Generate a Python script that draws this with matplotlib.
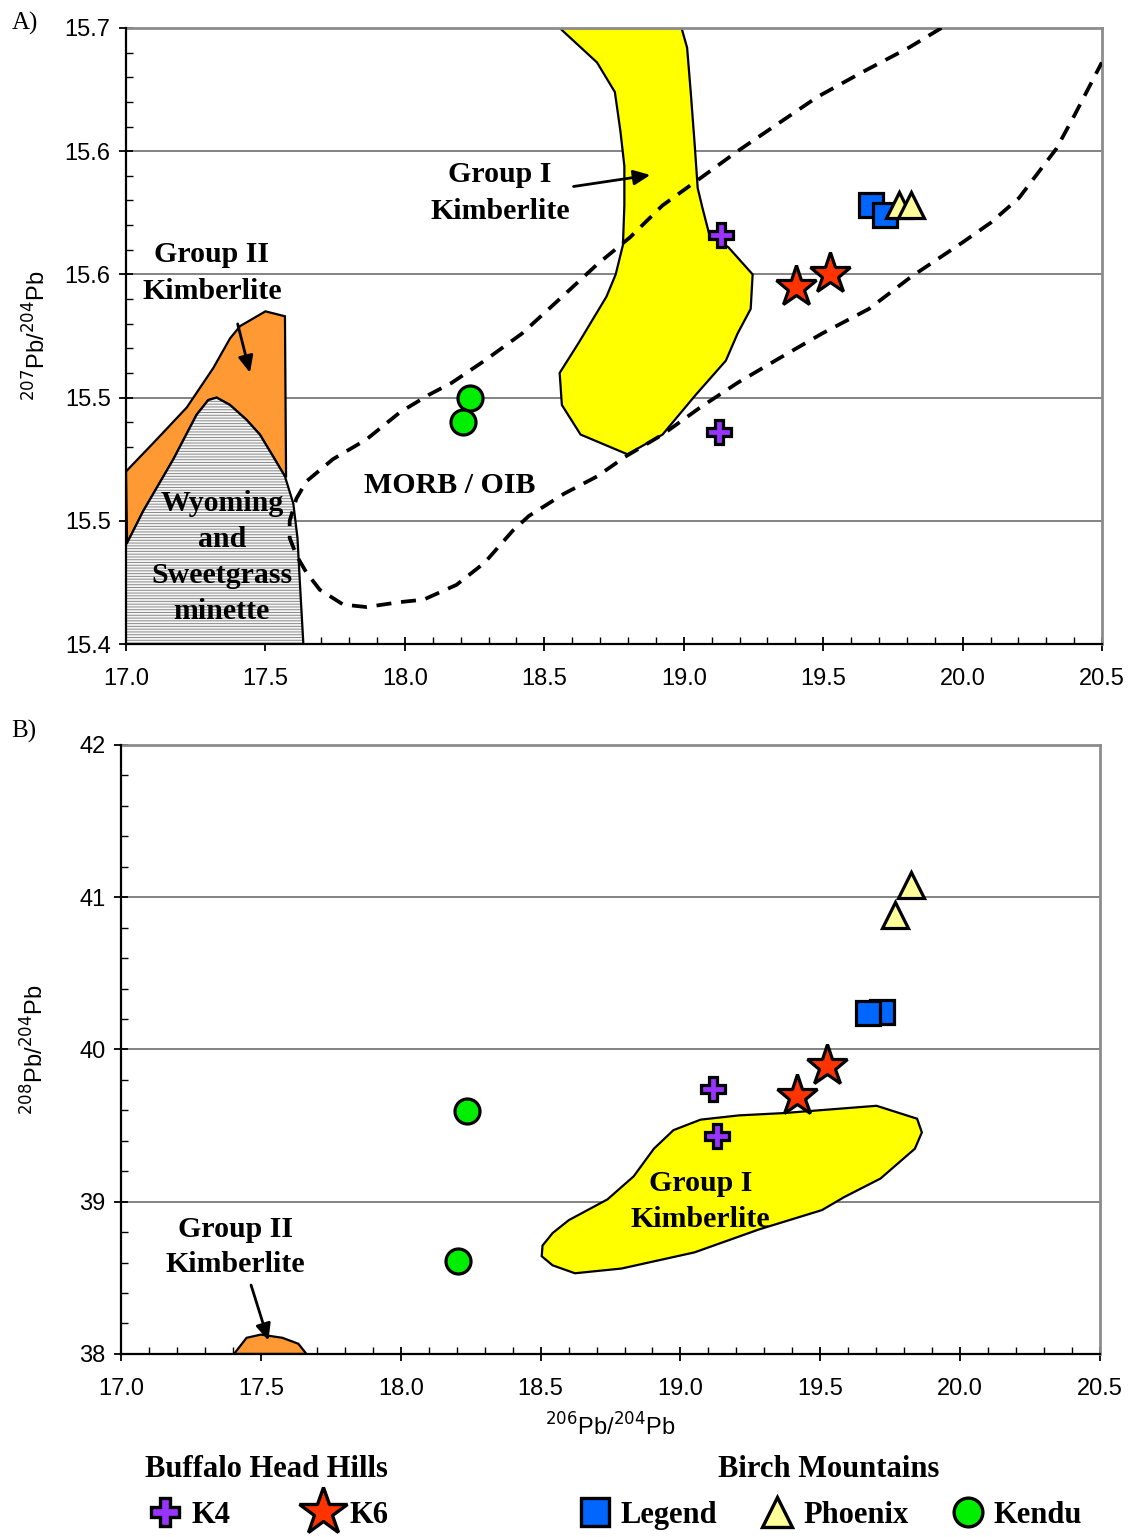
import matplotlib.pyplot as plt
from matplotlib.lines import Line2D
from matplotlib.ticker import MultipleLocator

plt.rcParams['font.family'] = ['Liberation Sans', 'DejaVu Sans']
plt.rcParams['hatch.linewidth'] = 0.7
plt.rcParams['hatch.color'] = '#8a8a8a'
SERIF = 'Liberation Serif'

# ---------------- data: panel A (207Pb/204Pb vs 206Pb/204Pb) ----------------
k4_x_a = [19.134, 19.126]
k4_y_a = [15.566, 15.486]
k6_x_a = [19.403, 19.526]
k6_y_a = [15.545, 15.550]
legend_x_a = [19.672, 19.723]
legend_y_a = [15.578, 15.574]
phoenix_x_a = [19.773, 19.815]
phoenix_y_a = [15.578, 15.578]
kendu_x_a = [18.232, 18.207]
kendu_y_a = [15.500, 15.490]

group1_x_a = [18.555, 18.992, 19.012, 19.025, 19.039, 19.050, 19.067, 19.092, 19.160, 19.247,
              19.240, 19.193, 19.151, 19.042, 18.924, 18.798, 18.630, 18.563, 18.555, 18.622,
              18.723, 18.756, 18.782, 18.787, 18.787, 18.773, 18.753, 18.689]
group1_y_a = [15.650, 15.650, 15.642, 15.624, 15.603, 15.585, 15.577, 15.566, 15.561, 15.550,
              15.536, 15.526, 15.515, 15.501, 15.485, 15.477, 15.485, 15.497, 15.510, 15.522,
              15.541, 15.550, 15.562, 15.578, 15.594, 15.608, 15.624, 15.636]

group2_top_x_a = [17.000, 17.110, 17.218, 17.313, 17.373, 17.409, 17.500, 17.570, 17.574]
group2_top_y_a = [15.470, 15.483, 15.496, 15.512, 15.524, 15.529, 15.535, 15.533, 15.468]

minette_x_a = [17.000, 17.004, 17.062, 17.170, 17.253, 17.295, 17.325, 17.373, 17.432, 17.480,
               17.528, 17.570, 17.600, 17.615, 17.624, 17.636]
minette_y_a = [15.400, 15.441, 15.454, 15.475, 15.493, 15.499, 15.500, 15.497, 15.491, 15.485,
               15.476, 15.468, 15.457, 15.443, 15.424, 15.400]

morb_x = [19.924, 19.807, 19.639, 19.479, 19.193, 19.059, 18.924, 18.807, 18.689, 18.555,
          18.420, 18.286, 18.168, 18.084, 17.982, 17.862, 17.742, 17.647, 17.611, 17.587,
          17.587, 17.611, 17.647, 17.695, 17.779, 17.862, 17.982, 18.067, 18.185, 18.286,
          18.387, 18.445, 18.571, 18.689, 18.790, 18.924, 19.059, 19.193, 19.328, 19.496,
          19.664, 19.815, 20.000, 20.101, 20.202, 20.269, 20.336, 20.403, 20.499]
morb_y = [15.650, 15.642, 15.632, 15.622, 15.600, 15.589, 15.578, 15.565, 15.554, 15.540,
          15.526, 15.515, 15.506, 15.501, 15.494, 15.483, 15.475, 15.466, 15.459, 15.450,
          15.443, 15.436, 15.429, 15.422, 15.416, 15.415, 15.417, 15.418, 15.424, 15.433,
          15.446, 15.452, 15.461, 15.468, 15.476, 15.485, 15.496, 15.506, 15.515, 15.526,
          15.536, 15.549, 15.563, 15.571, 15.581, 15.591, 15.601, 15.615, 15.636]

ytick_a = [15.40, 15.45, 15.50, 15.55, 15.60, 15.65]
ytick_labels_a = ['15.4', '15.5', '15.5', '15.6', '15.6', '15.7']

# ---------------- data: panel B (208Pb/204Pb vs 206Pb/204Pb) ----------------
k4_x_b = [19.118, 19.129]
k4_y_b = [39.742, 39.430]
k6_x_b = [19.524, 19.416]
k6_y_b = [39.894, 39.697]
legend_x_b = [19.722, 19.672]
legend_y_b = [40.248, 40.242]
phoenix_x_b = [19.823, 19.766]
phoenix_y_b = [41.080, 40.880]
kendu_x_b = [18.236, 18.204]
kendu_y_b = [39.597, 38.612]

group1_x_b = [18.975, 19.072, 19.209, 19.368, 19.701, 19.846, 19.863, 19.838, 19.715, 19.585,
              19.506, 19.281, 19.050, 18.789, 18.623, 18.543, 18.504, 18.507, 18.543, 18.601,
              18.739, 18.833, 18.905]
group1_y_b = [39.470, 39.539, 39.567, 39.582, 39.630, 39.545, 39.455, 39.348, 39.152, 39.030,
              38.945, 38.818, 38.667, 38.561, 38.530, 38.582, 38.642, 38.712, 38.794, 38.879,
              39.015, 39.167, 39.348]

group2_x_b = [17.404, 17.449, 17.500, 17.577, 17.634, 17.663]
group2_y_b = [38.000, 38.106, 38.127, 38.106, 38.067, 38.000]

# ---------------- styles ----------------
styles = {
    'K4': dict(marker='P', color='#9933ff', ms=17),
    'K6': dict(marker='*', color='#ff3300', ms=31),
    'Legend': dict(marker='s', color='#0066ff', ms=17),
    'Phoenix': dict(marker='^', color='#ffff99', ms=19),
    'Kendu': dict(marker='o', color='#00ee00', ms=18),
}


def draw_points(ax, name, xs, ys):
    st = styles[name]
    ax.plot(xs, ys, ls='none', marker=st['marker'], ms=st['ms'], mfc=st['color'],
            mec='black', mew=2.3, zorder=6, clip_on=False)


def style_axes(ax, yminor):
    ax.set_xlim(17.0, 20.5)
    ax.xaxis.set_major_locator(MultipleLocator(0.5))
    ax.xaxis.set_minor_locator(MultipleLocator(0.1))
    ax.xaxis.set_major_formatter(plt.FormatStrFormatter('%.1f'))
    ax.yaxis.set_minor_locator(MultipleLocator(yminor))
    ax.grid(axis='y', which='major', color='#6e6e6e', lw=1.2, zorder=0)
    ax.tick_params(which='major', direction='inout', length=10, width=1.3, labelsize=17, pad=6)
    ax.tick_params(which='minor', direction='in', length=5, width=1.0)
    ax.tick_params(axis='x', pad=12)
    for s in ['left', 'bottom']:
        ax.spines[s].set_linewidth(1.6)
        ax.spines[s].set_zorder(7)
    for s in ['top', 'right']:
        ax.spines[s].set_color('#8c8c8c')
        ax.spines[s].set_linewidth(2)


fig = plt.figure(figsize=(11.35, 15.37), dpi=100)
arrow = dict(arrowstyle='-|>,head_length=1.0,head_width=0.45', color='black', lw=2)
tkw = dict(family=SERIF, fontweight='bold', fontsize=21.5, ha='center', va='center', zorder=8)

# ---------------- panel A ----------------
axA = fig.add_axes([0.111, 0.581, 0.860, 0.4008])
style_axes(axA, 0.01)
axA.set_ylim(15.40, 15.65)
axA.set_yticks(ytick_a)
axA.set_yticklabels(ytick_labels_a)

g2_poly_x = group2_top_x_a + minette_x_a[11:0:-1]
g2_poly_y = group2_top_y_a + minette_y_a[11:0:-1]
axA.fill(g2_poly_x, g2_poly_y, facecolor='#ff9933', edgecolor='black', lw=1.6, zorder=2)
axA.fill(minette_x_a, minette_y_a, facecolor='#f6f6f6', edgecolor='#8a8a8a', hatch='------',
         lw=0, zorder=2)
axA.plot(minette_x_a[1:], minette_y_a[1:], color='black', lw=1.6, zorder=3)
axA.fill(group1_x_a, group1_y_a, facecolor='#ffff00', edgecolor='black', lw=1.6, zorder=2)
axA.plot(morb_x, morb_y, color='black', lw=2.7, ls=(0, (4, 2.6)), zorder=4)

for name, xs, ys in [('Kendu', kendu_x_a, kendu_y_a), ('K4', k4_x_a, k4_y_a),
                     ('K6', k6_x_a, k6_y_a), ('Legend', legend_x_a, legend_y_a),
                     ('Phoenix', phoenix_x_a, phoenix_y_a)]:
    draw_points(axA, name, xs, ys)

axA.text(18.341, 15.5905, 'Group I', **tkw)
axA.text(18.341, 15.5755, 'Kimberlite', **tkw)
axA.annotate('', xy=(18.89, 15.5905), xytext=(18.595, 15.5855), arrowprops=arrow, zorder=8)
axA.text(17.308, 15.558, 'Group II', **tkw)
axA.text(17.308, 15.543, 'Kimberlite', **tkw)
axA.annotate('', xy=(17.447, 15.509), xytext=(17.398, 15.531), arrowprops=arrow, zorder=8)
axA.text(18.162, 15.4645, 'MORB / OIB', **tkw)
for label, yy in [('Wyoming', 15.4572), ('and', 15.4425), ('Sweetgrass', 15.4278), ('minette', 15.413)]:
    axA.text(17.344, yy, label, **tkw)
axA.set_ylabel(r'$^{207}$Pb/$^{204}$Pb', fontsize=17, labelpad=10)
fig.text(0.010, 0.985, 'A)', family=SERIF, fontsize=18, va='center')

# ---------------- panel B ----------------
axB = fig.add_axes([0.1066, 0.1191, 0.8626, 0.3962])
style_axes(axB, 0.2)
axB.set_ylim(38, 42)
axB.yaxis.set_major_locator(MultipleLocator(1))

axB.fill(group1_x_b, group1_y_b, facecolor='#ffff00', edgecolor='black', lw=1.6, zorder=2)
axB.fill(group2_x_b, group2_y_b, facecolor='#ff9933', edgecolor='black', lw=1.6, zorder=2)

for name, xs, ys in [('Kendu', kendu_x_b, kendu_y_b), ('K4', k4_x_b, k4_y_b),
                     ('K6', k6_x_b, k6_y_b), ('Legend', legend_x_b, legend_y_b),
                     ('Phoenix', phoenix_x_b, phoenix_y_b)]:
    draw_points(axB, name, xs, ys)

axB.text(19.071, 39.12, 'Group I', **tkw)
axB.text(19.071, 38.88, 'Kimberlite', **tkw)
axB.text(17.41, 38.82, 'Group II', **tkw)
axB.text(17.41, 38.585, 'Kimberlite', **tkw)
axB.annotate('', xy=(17.53, 38.07), xytext=(17.462, 38.47), arrowprops=arrow, zorder=8)
axB.set_ylabel(r'$^{208}$Pb/$^{204}$Pb', fontsize=17, labelpad=22)
axB.set_xlabel(r'$^{206}$Pb/$^{204}$Pb', fontsize=17, labelpad=10)
fig.text(0.010, 0.524, 'B)', family=SERIF, fontsize=18, va='center')


# ---------------- legends ----------------
def handle(name):
    st = styles[name]
    return Line2D([], [], ls='none', marker=st['marker'], ms=st['ms'] * 1.15,
                  mfc=st['color'], mec='black', mew=2.4)


lkw = dict(frameon=False, prop=dict(family=SERIF, weight='bold', size=22),
           title_fontproperties=dict(family=SERIF, weight='bold', size=22),
           handletextpad=0.2, borderaxespad=0, handlelength=1.3)
leg1 = fig.legend([handle('K4'), handle('K6')], ['K4', 'K6'], ncol=2, loc='center',
                  bbox_to_anchor=(0.235, 0.029), title='Buffalo Head Hills',
                  columnspacing=2.4, **lkw)
leg2 = fig.legend([handle('Legend'), handle('Phoenix'), handle('Kendu')],
                  ['Legend', 'Phoenix', 'Kendu'], ncol=3, loc='center',
                  bbox_to_anchor=(0.73, 0.029), title='Birch Mountains',
                  columnspacing=1.3, **lkw)
for lg in (leg1, leg2):
    lg._legend_box.sep = 12

fig.savefig('out.png', dpi=100)
